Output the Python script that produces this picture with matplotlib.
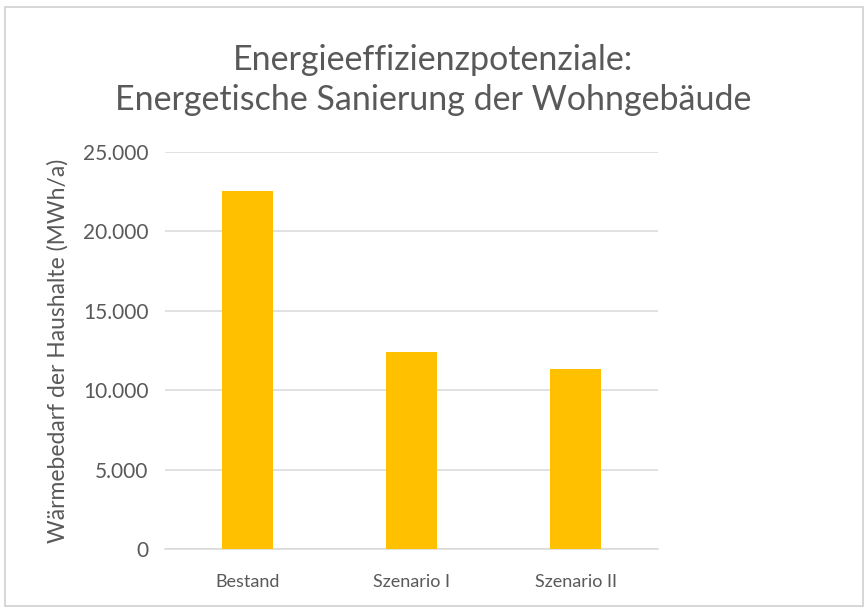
import matplotlib
matplotlib.use("Agg")
import matplotlib.pyplot as plt
from matplotlib.patches import Rectangle
from matplotlib.ticker import FuncFormatter

categories = ["Bestand", "Szenario I", "Szenario II"]
waermebedarf = [22550, 12390, 11340]
yticks = [0, 5000, 10000, 15000, 20000, 25000]

plt.rcParams['font.family'] = ['Lato', 'DejaVu Sans']
grey = "#595959"

fig = plt.figure(figsize=(8.66, 6.08), dpi=100)
ax = fig.add_axes([0.1905, 0.0965, 0.5693, 0.654])

# light chart border like the Excel chart area
fig.patches.append(Rectangle((0.006, 0.004), 0.99, 0.985, transform=fig.transFigure,
                             fill=False, edgecolor="#d0d0d0", linewidth=1.2))

x = range(len(categories))
ax.bar(x, waermebedarf, width=0.31, color="#ffc000", zorder=3)

ax.set_xlim(-0.5, 2.5)
ax.set_ylim(0, 25000)
ax.set_yticks(yticks)
ax.yaxis.set_major_formatter(FuncFormatter(lambda v, p: f"{int(v):,}".replace(",", ".")))
ax.set_xticks(list(x))
ax.set_xticklabels(categories)

ax.grid(axis="y", color="#d9d9d9", linewidth=1.1, zorder=0)
for s in ["top", "right", "left"]:
    ax.spines[s].set_visible(False)
ax.spines["bottom"].set_color("#d9d9d9")
ax.spines["bottom"].set_linewidth(1.1)
ax.tick_params(axis="both", length=0, colors=grey)
ax.tick_params(axis="x", pad=18, labelsize=13)
ax.tick_params(axis="y", pad=12, labelsize=15)

ax.set_ylabel("Wärmebedarf der Haushalte (MWh/a)", color=grey, fontsize=16.5, labelpad=10)
fig.text(0.5, 0.868, "Energieeffizienzpotenziale:\nEnergetische Sanierung der Wohngebäude",
         ha="center", va="center", color=grey, fontsize=24.5, linespacing=1.3)

fig.savefig("out.png", dpi=100)
